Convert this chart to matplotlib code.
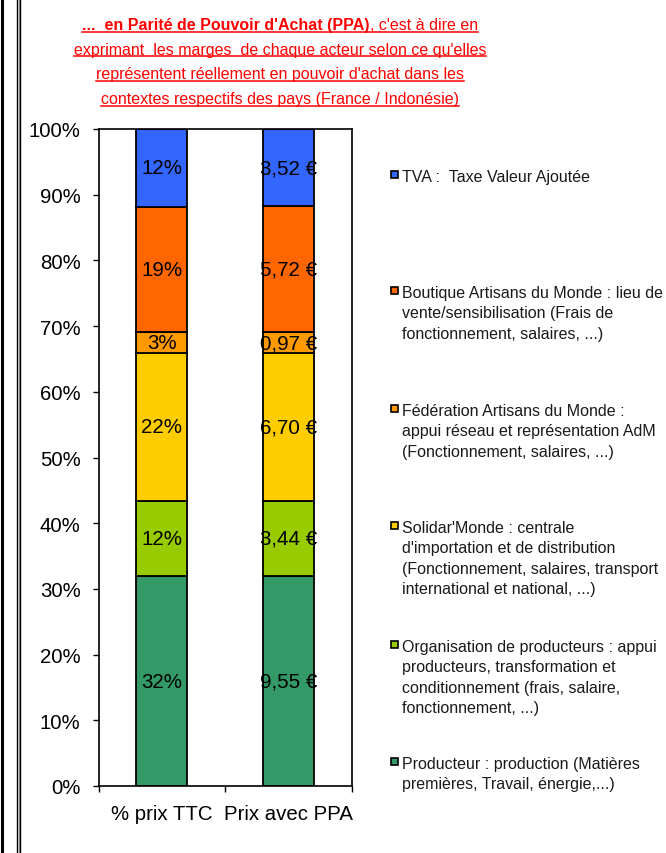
import matplotlib
matplotlib.use("Agg")
import matplotlib.pyplot as plt
import numpy as np
from matplotlib import font_manager
from matplotlib.patches import Rectangle
from matplotlib.lines import Line2D
from matplotlib.ticker import FixedLocator, FuncFormatter

# ---------------- data ----------------
categories = ["% prix TTC", "Prix avec PPA"]
acteurs = [
    "Producteur : production (Matières\npremières, Travail, énergie,...)",
    "Organisation de producteurs : appui\nproducteurs, transformation et\nconditionnement (frais, salaire,\nfonctionnement, ...)",
    "Solidar'Monde : centrale\nd'importation et de distribution\n(Fonctionnement, salaires, transport\ninternational et national, ...)",
    "Fédération Artisans du Monde :\nappui réseau et représentation AdM\n(Fonctionnement, salaires, ...)",
    "Boutique Artisans du Monde : lieu de\nvente/sensibilisation (Frais de\nfonctionnement, salaires, ...)",
    "TVA :  Taxe Valeur Ajoutée",
]
pct_ttc = [31.9, 11.5, 22.4, 3.2, 19.1, 11.8]      # % of retail price
prix_ppa = [9.55, 3.44, 6.70, 0.97, 5.72, 3.52]    # euros in PPP
colors = ["#339966", "#99CC00", "#FFCC00", "#FF9900", "#FF6600", "#3366FF"]

title_bold = "...  en Parité de Pouvoir d'Achat (PPA)"
title_rest = ", c'est à dire en"
title_lines = [
    "exprimant  les marges  de chaque acteur selon ce qu'elles",
    "représentent réellement en pouvoir d'achat dans les",
    "contextes respectifs des pays (France / Indonésie)",
]

# ---------------- fonts ----------------
names = {f.name for f in font_manager.fontManager.ttflist}
base_font = "Liberation Sans" if "Liberation Sans" in names else "DejaVu Sans"
if "Liberation Sans Narrow" in names:
    title_font, title_size = "Liberation Sans Narrow", 13.5
else:
    title_font, title_size = base_font, 11.5
plt.rcParams["font.family"] = [base_font, "DejaVu Sans"]

W, H = 666, 854
fig = plt.figure(figsize=(W / 100, H / 100), dpi=100)
fig.patch.set_facecolor("white")

def fx(px):
    return px / W

def fy(py):
    return 1 - py / H

ax = fig.add_axes([fx(98.5), fy(787), fx(351.6) - fx(98.5), fy(130) - fy(787)])

series = [np.array(pct_ttc) / sum(pct_ttc), np.array(prix_ppa) / sum(prix_ppa)]
labels_series = [
    [f"{round(v):d}%" for v in pct_ttc],
    [f"{v:.2f}".replace(".", ",") + " €" for v in prix_ppa],
]
x = np.arange(len(categories))
for ci in range(len(categories)):
    bottom = 0.0
    for k in range(len(acteurs)):
        h = series[ci][k]
        ax.bar(x[ci], h, bottom=bottom, width=0.4, color=colors[k],
               edgecolor="black", linewidth=1.3, zorder=2)
        ax.text(x[ci], bottom + h / 2, labels_series[ci][k], ha="center",
                va="center", fontsize=14.8, color="black", zorder=3)
        bottom += h

ax.set_xlim(-0.5, 1.5)
ax.set_ylim(0, 1)
ax.yaxis.set_major_locator(FixedLocator(np.linspace(0, 1, 11)))
ax.yaxis.set_major_formatter(FuncFormatter(lambda v, p: f"{v*100:.0f}%"))
ax.tick_params(axis="y", direction="out", length=4.5, width=1, labelsize=14.7,
               pad=8.5, colors="black")
ax.set_xticks([-0.5, 0.5, 1.5])
ax.set_xticklabels([])
ax.tick_params(axis="x", which="major", direction="out", length=4.5, width=1)
ax.set_xticks(x, minor=True)
ax.set_xticklabels(categories, minor=True)
ax.tick_params(axis="x", which="minor", length=0, labelsize=14.7, pad=13)
for s in ax.spines.values():
    s.set_linewidth(1.2)
    s.set_color("black")

# ---------------- legend (manual) ----------------
leg_tops = [758, 641, 522, 405, 287, 171]
for k in range(len(acteurs)):
    top = leg_tops[k]
    fig.add_artist(Rectangle((fx(391), fy(top + 8)), fx(7), 7 / H,
                             transform=fig.transFigure, facecolor=colors[k],
                             edgecolor="black", linewidth=1.2))
    for j, line in enumerate(acteurs[k].split("\n")):
        fig.text(fx(402), fy(top - 1 + 20.3 * j), line, ha="left", va="top",
                 fontsize=11.5, color="#1a1a1a")

# ---------------- title (underlined) ----------------
fig.canvas.draw()
renderer = fig.canvas.get_renderer()
cx = 280
baselines = [30, 54.5, 79.5, 104]

def underline(x0, x1, base):
    fig.add_artist(Line2D([fx(x0), fx(x1)], [fy(base + 2.5)] * 2,
                          transform=fig.transFigure, color="#FF0000", lw=1.1))

t1 = fig.text(0, fy(baselines[0]), title_bold, ha="left", va="baseline",
              fontsize=title_size, fontweight="bold", color="#FF0000",
              family=[title_font, "DejaVu Sans"])
t2 = fig.text(0, fy(baselines[0]), title_rest, ha="left", va="baseline",
              fontsize=title_size, color="#FF0000",
              family=[title_font, "DejaVu Sans"])
w1 = t1.get_window_extent(renderer).width
w2 = t2.get_window_extent(renderer).width
x0 = cx - (w1 + w2) / 2
t1.set_x(fx(x0))
t2.set_x(fx(x0 + w1))
underline(x0, x0 + w1 + w2, baselines[0])
for i, line in enumerate(title_lines):
    t = fig.text(fx(cx), fy(baselines[i + 1]), line, ha="center", va="baseline",
                 fontsize=title_size, color="#FF0000",
                 family=[title_font, "DejaVu Sans"])
    w = t.get_window_extent(renderer).width
    underline(cx - w / 2, cx + w / 2, baselines[i + 1])

# ---------------- page borders ----------------
for xp, lw, c in [(1.5, 2.2, "black"), (17.3, 1.0, "black"), (18.8, 1.0, "#999999"),
                  (20.2, 1.0, "black")]:
    fig.add_artist(Line2D([fx(xp)] * 2, [0, 1], transform=fig.transFigure,
                          color=c, lw=lw))

fig.savefig("out.png", dpi=100, facecolor="white")
